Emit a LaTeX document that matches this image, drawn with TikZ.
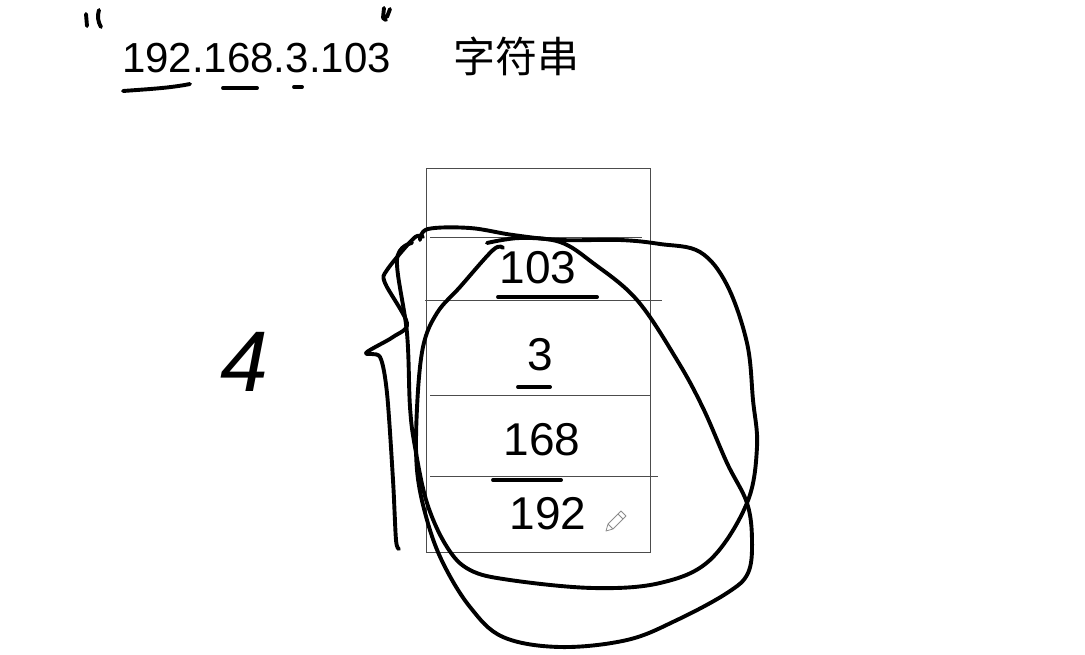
\documentclass[tikz,border=0pt]{standalone}
\usepackage{fontspec}
\setmainfont{Liberation Sans}
\newfontfamily\cjk{Noto Sans CJK SC}
\begin{document}
\begin{tikzpicture}[x=1pt,y=-1pt,
  ink/.style={line width=3.9pt, line cap=round, line join=round},
  rule/.style={draw=black!70, line width=0.9pt},
  typed/.style={inner sep=0pt, font=\fontsize{42}{42}\selectfont},
  hand/.style={inner sep=0pt, font=\fontsize{46}{46}\selectfont},
  cell/.style={draw=black!70, line width=0.9pt, minimum width=224pt, minimum height=384pt, inner sep=0pt}]
\useasboundingbox (0,0) rectangle (1085,654);
% typed text
\node[typed, anchor=base west] (ip) at (122,72) {192.168.3.103};
\node[typed, anchor=base west] (str) at (453,72) {\cjk 字符串};
% handwritten marks around the typed text
\draw[ink] (86,14) -- (87,26);
\draw[ink] (99,10) .. controls (97,16) and (98,22) .. (101,27);
\draw[ink] (384,8) -- (383,18) -- (386,20) (390,9) -- (387,17);
\draw[ink] (123,91) .. controls (150,89) and (170,88) .. (190,84);
\draw[ink] (223,88) -- (257,88);
\draw[ink] (294,87) -- (302,87);
% table
\node[cell] (tbl) at (538.5,360) {};
\draw[rule] (430,237) -- (642,237);
\draw[rule] (425,300) -- (662,300);
\draw[rule] (430,395) -- (651,395);
\draw[rule] (430,476) -- (658,476);
% handwritten values
\node[hand] (v1) at (538,268) {103};
\draw[ink] (498,297) -- (597,297);
\node[hand] (v2) at (540,355) {3};
\draw[ink] (518,387) -- (550,387);
\node[hand] (v3) at (542,440) {168};
\draw[ink] (493,480) -- (561,480);
\node[hand] (v4) at (548,514) {192};
% pencil cursor
\draw[black!45, line width=0.8pt, line join=round] (606,531) -- (608,524) -- (621,511) -- (626,516) -- (613,529) -- cycle (608,524) -- (613,529) (618,514) -- (623,519);
% left count
\node[inner sep=0pt, font=\fontsize{86}{86}\selectfont\itshape] (n4) at (244,362) {4};
% brace stroke
\draw[ink] plot[smooth, tension=0.5] coordinates {(423,237) (414,238) (387,270) (385,283) (407,323) (393,337) (366,353) (380,357) (387,393) (393,480) (396,540) (399,549)};
% loop A
\draw[ink] plot[smooth, tension=0.6] coordinates {(420,240) (428,229) (470,228) (513,235) (560,240) (620,240) (660,244) (700,252) (727,285) (747,343) (753,400) (757,447) (747,503) (710,560) (660,583) (593,588) (510,580) (470,570) (447,547) (427,503) (415,447) (410,407) (407,333) (397,260) (412,243)};
% loop B
\draw[ink] plot[smooth, tension=0.6] coordinates {(487,243) (520,238) (560,242) (593,263) (637,300) (677,360) (703,408) (727,463) (747,503) (752,540) (748,573) (727,593) (677,620) (627,640) (560,647) (503,637) (470,607) (443,563) (427,520) (417,470) (417,408) (423,347) (437,313) (460,287) (493,250) (503,248)};
\end{tikzpicture}
\end{document}
